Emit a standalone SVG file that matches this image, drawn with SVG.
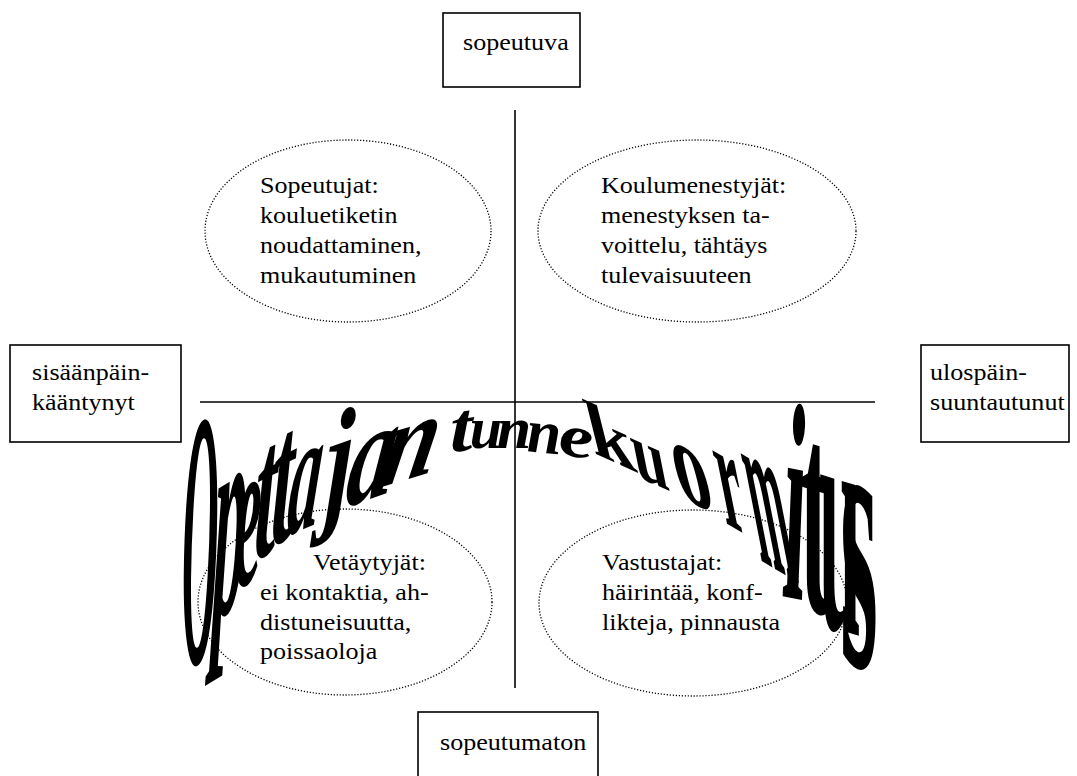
<svg xmlns="http://www.w3.org/2000/svg" width="1077" height="776" viewBox="0 0 1077 776">
<style>
.box{fill:#fff;stroke:#000;stroke-width:1.6}
.ell{fill:none;stroke:#000;stroke-width:1.3;stroke-dasharray:1.2 1.8}
.axis{stroke:#000;stroke-width:1.6;fill:none}
.lbl{font-size:24px;fill:#000}
.wa{font-size:100px;font-weight:bold;font-style:italic;fill:#000;text-anchor:middle}
.wu{font-size:100px;font-weight:bold;fill:#000;text-anchor:middle}
</style>
<rect width="1077" height="776" fill="#fff"/>
<g id="connectors">
<line class="axis" x1="515" y1="110" x2="515" y2="688"/>
<line class="axis" x1="200" y1="402" x2="875" y2="402"/>
</g>
<g id="node-sopeutuva" font-family="Liberation Serif, serif">
<rect class="box" x="443" y="13" width="137" height="74"/>
<text class="lbl" transform="translate(463,50) scale(1.087,1)">sopeutuva</text>
</g>
<g id="node-sisaanpain" font-family="Liberation Serif, serif">
<rect class="box" x="10" y="345" width="171" height="97"/>
<text class="lbl" transform="translate(32,380) scale(1.087,1)">sisäänpäin-</text>
<text class="lbl" transform="translate(32,410) scale(1.087,1)">kääntynyt</text>
</g>
<g id="node-ulospain" font-family="Liberation Serif, serif">
<rect class="box" x="921" y="345" width="148" height="97"/>
<text class="lbl" transform="translate(930,380) scale(1.087,1)">ulospäin-</text>
<text class="lbl" transform="translate(930,410) scale(1.087,1)">suuntautunut</text>
</g>
<g id="node-sopeutumaton" font-family="Liberation Serif, serif">
<rect class="box" x="418" y="712" width="180" height="70"/>
<text class="lbl" transform="translate(440,750) scale(1.087,1)">sopeutumaton</text>
</g>
<g id="node-sopeutujat" font-family="Liberation Serif, serif">
<ellipse class="ell" cx="348" cy="231" rx="143" ry="91"/>
<text class="lbl" transform="translate(260,193) scale(1.087,1)">Sopeutujat:</text>
<text class="lbl" transform="translate(260,223) scale(1.087,1)">kouluetiketin</text>
<text class="lbl" transform="translate(260,253) scale(1.087,1)">noudattaminen,</text>
<text class="lbl" transform="translate(260,283) scale(1.087,1)">mukautuminen</text>
</g>
<g id="node-koulumenestyjat" font-family="Liberation Serif, serif">
<ellipse class="ell" cx="697" cy="231" rx="159" ry="91"/>
<text class="lbl" transform="translate(601,193) scale(1.087,1)">Koulumenestyjät:</text>
<text class="lbl" transform="translate(601,223) scale(1.087,1)">menestyksen ta-</text>
<text class="lbl" transform="translate(601,253) scale(1.087,1)">voittelu, tähtäys</text>
<text class="lbl" transform="translate(601,283) scale(1.087,1)">tulevaisuuteen</text>
</g>
<g id="node-vetaytyjat" font-family="Liberation Serif, serif">
<ellipse class="ell" cx="345" cy="602" rx="147" ry="93"/>
<text class="lbl" transform="translate(313,570) scale(1.087,1)">Vetäytyjät:</text>
<text class="lbl" transform="translate(260,600) scale(1.087,1)">ei kontaktia, ah-</text>
<text class="lbl" transform="translate(260,630) scale(1.087,1)">distuneisuutta,</text>
<text class="lbl" transform="translate(260,659) scale(1.087,1)">poissaoloja</text>
</g>
<g id="node-vastustajat" font-family="Liberation Serif, serif">
<ellipse class="ell" cx="693" cy="603" rx="154" ry="93"/>
<text class="lbl" transform="translate(602,570) scale(1.087,1)">Vastustajat:</text>
<text class="lbl" transform="translate(602,600) scale(1.087,1)">häirintää, konf-</text>
<text class="lbl" transform="translate(602,630) scale(1.087,1)">likteja, pinnausta</text>
</g>
<g id="title" font-family="Liberation Serif, serif">
<text class="wa" transform="matrix(0.5,-0.15,-0.04,3.65,199,662)">O</text>
<text class="wa" transform="matrix(0.66,-0.4,-0.086,2.87,228,612)">p</text>
<text class="wa" transform="matrix(0.6,-0.24,-0.04,2.13,247,584)">e</text>
<text class="wa" transform="matrix(0.77,-0.38,-0.06,1.91,264,556)">t</text>
<text class="wa" transform="matrix(0.8,-0.4,-0.06,1.9,281,542)">t</text>
<text class="wa" transform="matrix(0.64,-0.26,-0.17,1.7,301,530)">a</text>
<text class="wa" transform="matrix(1.0,-0.35,-0.06,1.43,338,509)">j</text>
<text class="wa" transform="matrix(0.96,-0.34,-0.21,1.41,367,500)">a</text>
<text class="wa" transform="matrix(1.0,-0.3,-0.24,1.2,405,480)">n</text>
<text class="wa" transform="matrix(0.8,-0.11,0,0.7,461,451)">t</text>
<text class="wa" transform="matrix(0.58,0,0,0.6,486,448)">u</text>
<text class="wa" transform="matrix(0.62,0,0,0.6,514,448)">n</text>
<text class="wa" transform="matrix(0.62,0.06,0,0.62,544,453)">n</text>
<text class="wa" transform="matrix(0.78,0.19,0,0.62,576,457)">e</text>
<text class="wu" transform="matrix(0.8,0.36,0.2,0.8,616,463)">k</text>
<text class="wu" transform="matrix(0.62,0.28,0.17,0.85,654,484)">u</text>
<text class="wu" transform="matrix(0.76,0.42,0.31,1.25,699,506)">o</text>
<text class="wu" transform="matrix(0.56,0.33,0.32,1.6,738,530)">r</text>
<text class="wu" transform="matrix(0.47,0.28,0.46,2.35,780,572)">m</text>
<text class="wu" transform="matrix(0.8,0.16,-0.11,2.8,792,598)">i</text>
<text class="wu" transform="matrix(0.9,0.27,0,2.95,815,611)">t</text>
<text class="wu" transform="matrix(0.75,0.23,0,3.26,840,630)">u</text>
<text class="wu" transform="matrix(0.97,0.39,0,3.83,859,666)">s</text>
</g>
</svg>
